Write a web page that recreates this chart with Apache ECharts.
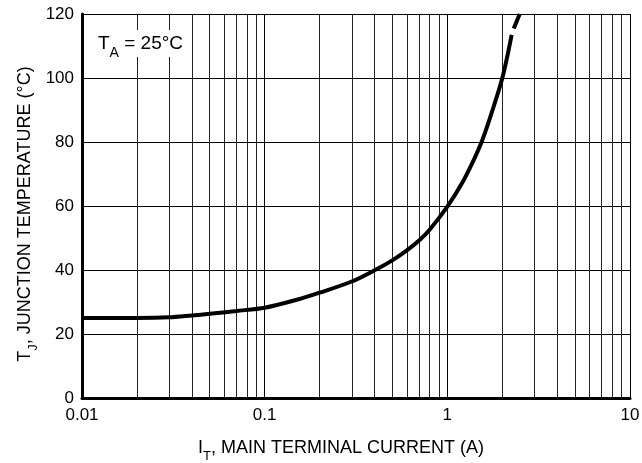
<!DOCTYPE html>
<html>
<head>
<meta charset="utf-8">
<script src="https://cdn.jsdelivr.net/npm/echarts@6/dist/echarts.min.js"></script>
<style>
    html, body { margin: 0; padding: 0; background: #fff; }
    #chart { width: 642px; height: 463px; }
</style>
</head>
<body>
<div id="chart"></div>
<script>
// current (A) vs junction temperature (°C)
var currentA = [0.01, 0.02, 0.03, 0.04, 0.05, 0.07, 0.1, 0.15, 0.2, 0.3, 0.4, 0.5, 0.6, 0.7, 0.8, 1, 1.2, 1.4, 1.54, 1.7, 2, 2.25]
var tempC = [25, 25, 25.2, 25.8, 26.3, 27.2, 28.2, 30.7, 32.9, 36.4, 39.9, 43, 46.1, 49.2, 52.6, 59.8, 67, 74.6, 80, 87, 100, 113.5]
// dashed end of the curve
var dashCurrent = [2.31, 2.49]
var dashTemp = [115.5, 120]
// minor vertical grid lines (2..9 of each decade)
var minorX = [0.02, 0.03, 0.04, 0.05, 0.06, 0.07, 0.08, 0.09,
    0.2, 0.3, 0.4, 0.5, 0.6, 0.7, 0.8, 0.9,
    2, 3, 4, 5, 6, 7, 8, 9]
var yTicks = [0, 20, 40, 60, 80, 100, 120]

var font = '"Liberation Sans", Arial, sans-serif'
var chart = echarts.init(document.getElementById('chart'))

var solid = currentA.map(function(x, i) { return [x, tempC[i]] })
var dashed = dashCurrent.map(function(x, i) { return [x, dashTemp[i]] })

var nameRich = {
    n: { fontFamily: font, fontSize: 18, color: '#000' },
    s: { fontFamily: font, fontSize: 13, color: '#000', verticalAlign: 'bottom', padding: [0, 0, -6, 0] }
}

var option = {
    animation: false,
    grid: { left: 82, right: 12, top: 14, bottom: 65, outerBoundsMode: 'none' },
    xAxis: {
        type: 'log',
        logBase: 10,
        min: 0.01,
        max: 10,
        name: '{n|I}{s|T}{n|, MAIN TERMINAL CURRENT (A)}',
        nameLocation: 'middle',
        nameGap: 41,
        nameMoveOverlap: false,
        nameTextStyle: { rich: nameRich, padding: [0, 30, 0, 0] },
        axisLine: { show: true, lineStyle: { color: '#000', width: 3 } },
        axisTick: { show: false },
        axisLabel: {
            fontFamily: font, fontSize: 17, color: '#000', margin: 9,
            formatter: function(v) { return String(+v.toPrecision(3)) }
        },
        splitLine: { show: true, lineStyle: { color: '#000', width: 1 } }
    },
    yAxis: {
        type: 'value',
        min: 0,
        max: 120,
        interval: 20,
        name: '{n|T}{s|J}{n|, JUNCTION TEMPERATURE (°C)}',
        nameLocation: 'middle',
        nameGap: 48,
        nameMoveOverlap: false,
        nameTextStyle: { rich: nameRich, padding: [0, 16, 0, 0] },
        axisLine: { show: true, lineStyle: { color: '#000', width: 3 } },
        axisTick: { show: false },
        axisLabel: {
            fontFamily: font, fontSize: 17, color: '#000', margin: 8,
            formatter: function(v) { return yTicks.indexOf(v) >= 0 ? String(v) : '' }
        },
        splitLine: { show: true, lineStyle: { color: '#000', width: 1 } }
    },
    graphic: [{
        type: 'text',
        left: 93,
        top: 30,
        z: 100,
        style: {
            text: '{n|T}{s|A}{n| = 25°C}',
            backgroundColor: '#fff',
            padding: [4, 5, 4, 5],
            rich: {
                n: { fontFamily: font, fontSize: 19, fill: '#000' },
                s: { fontFamily: font, fontSize: 14, fill: '#000', verticalAlign: 'bottom', padding: [0, 0, -7, 0] }
            }
        }
    }],
    series: [
        {
            type: 'line',
            data: solid,
            smooth: 0.3,
            showSymbol: false,
            lineStyle: { color: '#000', width: 4 },
            z: 10,
            markLine: {
                silent: true,
                symbol: 'none',
                label: { show: false },
                lineStyle: { color: '#222', width: 1, type: 'solid' },
                data: minorX.map(function(x) { return { xAxis: x } })
            }
        },
        {
            type: 'line',
            data: dashed,
            showSymbol: false,
            lineStyle: { color: '#000', width: 4 },
            z: 10
        }
    ]
}

chart.setOption(option)
</script>
</body>
</html>
